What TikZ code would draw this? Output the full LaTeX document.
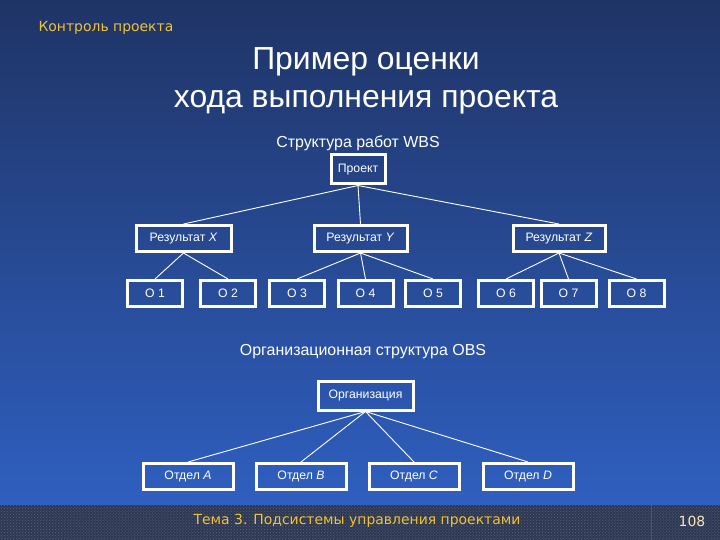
\documentclass[tikz,border=0pt]{standalone}
\usepackage{fontspec}
\setmainfont{Liberation Sans}
\newfontfamily\slidefont{DejaVu Sans}
\usepackage{tikz}
\usetikzlibrary{positioning,patterns}
\usepackage{xcolor}
\definecolor{bgtop}{HTML}{1F3466}
\definecolor{bgbot}{HTML}{2F5FC0}
\definecolor{foot}{HTML}{2E3852}
\definecolor{footdot}{HTML}{5A6480}
\definecolor{sep}{HTML}{3558A8}
\definecolor{gold}{HTML}{F2C230}
\definecolor{pale}{HTML}{F8E6B4}

\begin{document}
\begin{tikzpicture}[x=1bp,y=-1bp,
    box/.style={draw=white,line width=3bp,text=white,font=\fontsize{12.3}{14}\selectfont,
      minimum height=26bp,inner sep=2bp},
    link/.style={white,line width=0.9bp},
    head/.style={text=white,font=\fontsize{16}{19}\selectfont},
    slide/.style={font=\slidefont\fontsize{14}{16}\selectfont}]
  \useasboundingbox (0,0) rectangle (720,540);
  % background
  \shade[top color=bgtop,bottom color=bgbot] (0,0) rectangle (720,505);
  \fill[foot] (0,505) rectangle (720,540);
  \fill[pattern=crosshatch dots,pattern color=footdot] (0,505) rectangle (720,540);
  \draw[sep,line width=1bp] (651,505) -- (651,540);

  % header and footer
  \node[slide,anchor=west,text=gold] (topic) at (35,28) {Контроль проекта};
  \node[slide,text=gold] (theme) at (357,521) {Тема 3. Подсистемы управления проектами};
  \node[slide,text=pale] (page) at (692,521) {108};

  % title
  \node[text=white,align=center,font=\fontsize{32}{38}\selectfont] (title) at (366,81)
    {Пример оценки\\хода выполнения проекта};

  % WBS
  \node[head] (wbs) at (358,143) {Структура работ WBS};
  \node[box,minimum width=54bp,minimum height=29bp] (proj) at (358,169.5) {Проект};
  \node[box,minimum width=95bp] (resX) at (183.5,238.5) {Результат \textit{X}};
  \node[box,minimum width=93bp] (resY) at (360.5,238.5) {Результат \textit{Y}};
  \node[box,minimum width=92bp] (resZ) at (559,238.5) {Результат \textit{Z}};
  \foreach \i/\x in {1/155,2/228,3/297,4/365.5,5/433,6/506,7/568.5,8/636.5} {
    \node[box,minimum width=55bp] (o\i) at (\x,293.5) {О \i};
  }
  \foreach \r in {resX,resY,resZ} {
    \draw[link] (proj.south) -- (\r.north);
  }
  \foreach \i in {1,2} {
    \draw[link] (resX.south) -- (o\i.north);
  }
  \foreach \i in {3,4,5} {
    \draw[link] (resY.south) -- (o\i.north);
  }
  \foreach \i in {6,7,8} {
    \draw[link] (resZ.south) -- (o\i.north);
  }

  % OBS
  \node[head] (obs) at (363,352) {Организационная структура OBS};
  \node[box,minimum width=95bp,minimum height=29bp] (org) at (365.5,395.5) {Организация};
  \foreach \d/\x in {A/188,B/301,C/414,D/528} {
    \node[box,minimum width=90bp] (dep\d) at (\x,476.5) {Отдел \textit{\d}};
    \draw[link] (org.south) -- (dep\d.north);
  }
\end{tikzpicture}
\end{document}
